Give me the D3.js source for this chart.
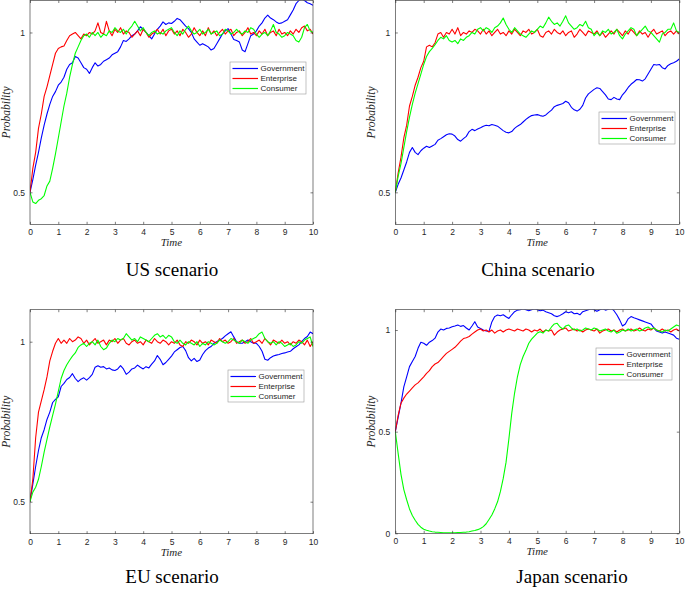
<!DOCTYPE html>
<html>
<head>
<meta charset="utf-8">
<script src="https://cdn.jsdelivr.net/npm/d3@7"></script>
<style>
  body { margin: 0; background: #fff; }
  svg { display: block; }
</style>
</head>
<body>
<svg id="chart" width="685" height="592"></svg>
<script>
// sampling grid of the simulations (t = 0, 0.1, ..., 10)
var time = d3.range(101).map(function (i) { return i / 10; });
var xTicks = [0, 1, 2, 3, 4, 5, 6, 7, 8, 9, 10];
var seriesNames = ["Government", "Enterprise", "Consumer"];

// US scenario
var usGov = [
  0.50,0.54,0.585,0.625,0.67,0.71,0.745,0.775,0.80,0.815,
  0.835,0.845,0.86,0.885,0.90,0.905,0.925,0.92,0.905,0.89,
  0.885,0.872,0.89,0.905,0.895,0.90,0.91,0.915,0.92,0.93,
  0.935,0.94,0.955,0.975,0.972,0.98,0.99,0.995,1.005,1.018,
  1.01,1.0,0.99,0.98,0.995,1.01,1.02,1.033,1.025,1.03,
  1.028,1.035,1.044,1.04,1.03,1.02,1.012,1.0,0.98,0.97,
  0.96,0.965,0.96,0.955,0.945,0.95,0.965,0.98,0.995,1.005,
  1.012,0.995,0.978,0.975,0.97,0.945,0.94,0.965,0.99,0.995,
  1.005,1.02,1.03,1.045,1.054,1.045,1.04,1.033,1.028,1.03,
  1.035,1.04,1.055,1.07,1.09,1.1,1.105,1.1,1.093,1.09,
  1.085];
var usEnt = [
  0.50,0.575,0.625,0.70,0.745,0.80,0.83,0.865,0.90,0.935,
  0.95,0.955,0.958,0.975,0.99,0.995,1.0,0.99,0.98,0.995,
  0.99,1.0,0.995,1.005,1.03,1.0,0.995,1.035,1.005,0.99,
  1.01,1.0,1.015,0.995,1.005,1.0,0.985,0.995,1.005,0.99,
  1.01,1.0,0.985,0.995,1.0,1.01,0.995,1.01,0.99,1.005,
  1.01,0.995,1.005,0.99,1.01,1.0,0.985,0.995,1.015,1.0,
  0.99,1.005,0.99,1.015,0.995,1.005,0.99,1.0,1.01,0.995,
  1.005,1.01,0.99,1.0,1.005,0.99,1.0,1.015,0.995,1.0,
  0.99,1.005,0.995,1.01,0.99,1.0,1.005,0.99,1.01,0.995,
  1.0,0.99,1.005,0.995,1.01,1.0,1.015,1.02,1.005,1.01,
  0.995];
var usCon = [
  0.50,0.47,0.465,0.475,0.48,0.49,0.52,0.535,0.575,0.62,
  0.67,0.72,0.77,0.81,0.86,0.90,0.935,0.955,0.975,0.99,
  0.995,0.985,1.0,0.99,1.0,0.985,0.995,0.99,1.005,1.0,
  1.015,1.005,1.0,1.01,0.995,1.01,1.02,1.035,1.02,1.005,
  1.015,1.0,0.99,1.0,1.005,0.995,1.0,0.995,1.005,1.01,
  1.015,1.0,0.99,1.005,0.995,1.01,1.02,1.005,0.995,1.0,
  1.01,0.995,1.0,1.01,0.995,1.0,1.005,0.99,0.995,1.01,
  1.005,0.995,1.0,1.01,1.0,0.995,1.005,1.0,1.015,1.01,
  0.995,0.985,0.995,1.0,0.99,1.005,1.025,1.0,0.995,0.985,
  0.99,1.0,0.995,0.99,0.975,0.97,0.985,1.015,1.025,1.005,
  1.0];

// China scenario
var chinaGov = [
  0.50,0.525,0.545,0.57,0.595,0.625,0.64,0.625,0.618,0.63,
  0.638,0.644,0.64,0.645,0.65,0.663,0.668,0.674,0.68,0.683,
  0.682,0.676,0.665,0.66,0.668,0.675,0.69,0.697,0.693,0.698,
  0.702,0.707,0.71,0.708,0.712,0.71,0.707,0.70,0.693,0.688,
  0.686,0.69,0.70,0.707,0.712,0.72,0.728,0.735,0.74,0.742,
  0.743,0.74,0.738,0.742,0.75,0.757,0.768,0.772,0.775,0.778,
  0.785,0.78,0.766,0.758,0.754,0.76,0.772,0.795,0.808,0.815,
  0.822,0.827,0.825,0.815,0.805,0.792,0.79,0.797,0.792,0.79,
  0.805,0.815,0.828,0.838,0.845,0.853,0.852,0.848,0.855,0.87,
  0.885,0.9,0.898,0.9,0.89,0.886,0.897,0.902,0.905,0.91,
  0.917];
var chinaEnt = [
  0.50,0.56,0.61,0.67,0.71,0.77,0.80,0.835,0.86,0.89,
  0.91,0.955,0.96,0.955,0.968,0.995,1.0,0.985,1.0,0.995,
  1.01,0.995,1.015,0.99,1.0,0.995,1.005,1.0,1.01,1.005,
  0.995,1.01,0.995,1.005,0.99,1.0,1.01,0.995,1.0,0.99,
  1.005,0.995,1.01,1.0,0.99,1.005,1.0,1.01,0.995,1.0,
  1.01,0.99,0.985,1.0,1.005,0.995,1.01,1.0,0.995,1.005,
  0.99,1.0,1.005,0.985,0.995,1.01,1.0,0.99,1.005,1.0,
  0.995,1.005,0.99,1.0,0.985,0.995,1.005,0.995,1.01,1.0,
  0.99,1.005,0.995,1.01,1.0,0.99,1.005,0.995,1.0,0.985,
  1.0,1.01,0.995,1.0,1.005,0.99,1.0,1.005,0.995,1.005,
  0.995];
var chinaCon = [
  0.50,0.55,0.59,0.64,0.69,0.735,0.775,0.81,0.84,0.87,
  0.90,0.925,0.94,0.95,0.962,0.975,0.985,0.98,0.99,0.975,
  0.97,0.975,0.965,0.98,0.975,0.985,0.99,1.0,0.995,1.01,
  1.015,1.005,1.015,1.01,1.0,1.015,1.02,1.03,1.045,1.025,
  1.01,1.0,1.015,1.005,0.995,0.99,0.985,0.995,1.005,1.0,
  1.01,1.02,1.015,1.03,1.048,1.035,1.025,1.03,1.02,1.035,
  1.052,1.03,1.02,1.01,1.015,1.025,1.02,1.035,1.015,1.01,
  0.99,1.0,0.99,1.005,1.0,1.01,0.995,1.0,1.01,0.99,
  0.98,0.995,1.005,1.015,1.01,0.99,1.0,1.01,1.02,1.005,
  1.0,0.99,0.98,0.97,0.995,1.0,1.01,1.01,1.03,1.005,
  1.0];

// EU scenario
var euGov = [
  0.50,0.555,0.61,0.66,0.70,0.725,0.757,0.78,0.81,0.82,
  0.828,0.86,0.87,0.882,0.888,0.90,0.885,0.875,0.883,0.887,
  0.88,0.888,0.898,0.92,0.925,0.92,0.922,0.915,0.918,0.912,
  0.91,0.915,0.925,0.915,0.898,0.905,0.915,0.918,0.927,0.92,
  0.915,0.922,0.918,0.93,0.94,0.957,0.945,0.928,0.935,0.945,
  0.955,0.968,0.975,0.982,0.985,0.972,0.95,0.94,0.948,0.938,
  0.943,0.96,0.972,0.98,0.985,0.995,1.0,1.005,1.01,1.018,
  1.025,1.031,1.015,1.0,0.995,0.995,1.0,1.005,1.0,0.995,
  0.995,0.985,0.97,0.945,0.942,0.95,0.955,0.958,0.96,0.963,
  0.965,0.968,0.97,0.978,0.984,0.99,1.0,1.01,1.016,1.03,
  1.025];
var euEnt = [
  0.50,0.57,0.70,0.78,0.815,0.85,0.89,0.94,0.97,0.995,
  1.01,0.995,1.005,0.995,1.01,1.0,1.005,1.015,1.01,0.995,
  1.005,0.99,1.0,1.01,0.995,1.0,1.005,0.99,1.005,1.0,
  1.01,0.995,1.005,1.01,0.995,0.99,1.0,1.005,0.995,1.0,
  0.99,1.005,1.0,0.995,1.01,1.0,0.995,1.005,1.0,0.99,
  1.0,0.995,1.005,0.99,0.985,1.0,0.995,1.005,1.0,0.99,
  1.005,0.995,1.0,0.99,1.005,1.0,0.995,1.01,1.0,1.005,
  0.995,1.0,1.01,0.995,1.0,1.005,0.995,1.0,1.01,0.995,
  1.0,1.005,0.995,1.01,1.0,0.99,1.005,1.0,0.995,1.005,
  0.995,1.0,0.99,1.0,0.995,1.005,1.0,0.99,1.005,0.985,
  1.0];
var euCon = [
  0.50,0.53,0.545,0.57,0.61,0.655,0.695,0.734,0.77,0.805,
  0.845,0.885,0.91,0.928,0.942,0.955,0.965,0.982,0.99,0.995,
  0.985,0.995,1.0,0.99,1.005,0.985,0.975,0.98,0.995,1.005,
  1.0,1.01,1.005,1.01,1.025,1.015,1.005,1.01,1.0,1.015,
  1.01,1.005,1.0,1.01,1.02,1.025,1.015,1.02,1.01,1.02,
  1.015,1.0,0.995,1.005,0.995,0.99,1.0,0.995,0.99,1.0,
  0.985,0.995,0.99,1.0,0.995,0.99,0.995,1.005,1.0,0.995,
  1.0,1.01,1.005,1.0,0.995,1.005,1.0,0.995,1.005,1.01,
  1.015,1.025,1.03,1.01,1.0,0.995,1.0,0.99,1.0,0.995,
  0.985,0.99,0.995,0.985,0.99,1.0,0.995,1.005,1.01,1.015,
  0.985];

// Japan scenario
var japanGov = [
  0.50,0.57,0.64,0.72,0.77,0.82,0.845,0.87,0.91,0.94,
  0.935,0.925,0.94,0.948,0.96,0.99,1.005,1.0,1.008,1.01,
  1.016,1.02,1.025,1.018,1.022,1.01,1.0,1.02,1.041,1.015,
  1.008,1.0,0.995,0.993,1.04,1.066,1.074,1.07,1.075,1.065,
  1.057,1.075,1.09,1.098,1.1,1.105,1.1,1.095,1.1,1.105,
  1.1,1.095,1.098,1.09,1.085,1.08,1.07,1.066,1.072,1.08,
  1.09,1.085,1.09,1.08,1.082,1.075,1.09,1.095,1.1,1.105,
  1.1,1.092,1.1,1.105,1.098,1.102,1.108,1.095,1.075,1.05,
  1.02,1.03,1.055,1.066,1.06,1.055,1.05,1.045,1.04,1.035,
  1.03,1.012,0.995,0.99,0.985,0.99,0.985,0.98,0.975,0.96,
  0.955];
var japanEnt = [
  0.50,0.58,0.64,0.665,0.685,0.70,0.715,0.73,0.74,0.755,
  0.77,0.787,0.80,0.82,0.833,0.84,0.855,0.87,0.885,0.895,
  0.905,0.915,0.93,0.945,0.958,0.962,0.968,0.98,0.99,1.0,
  1.005,0.995,1.0,0.99,1.0,0.985,0.995,1.0,0.99,1.0,
  1.005,1.0,0.995,1.005,1.0,0.995,1.005,1.0,0.99,1.0,
  0.995,1.005,0.99,1.0,0.995,1.0,0.975,0.99,1.0,1.005,
  1.01,0.995,1.0,1.005,0.995,1.0,0.99,1.0,1.005,1.0,
  0.995,1.005,0.985,0.995,1.0,1.005,0.995,1.0,0.99,1.0,
  1.005,0.995,1.0,1.005,0.995,1.0,1.01,1.0,0.995,1.005,
  1.0,1.01,1.0,0.995,1.005,0.995,1.0,0.99,1.0,1.005,
  0.995];
var japanCon = [
  0.50,0.393,0.29,0.215,0.165,0.12,0.088,0.064,0.044,0.03,
  0.02,0.015,0.011,0.008,0.006,0.005,0.004,0.003,0.003,0.003,
  0.003,0.003,0.004,0.004,0.005,0.006,0.008,0.011,0.014,0.018,
  0.024,0.033,0.047,0.068,0.09,0.12,0.155,0.205,0.27,0.35,
  0.465,0.59,0.69,0.77,0.83,0.87,0.90,0.935,0.955,0.97,
  0.985,0.992,0.985,1.0,0.995,1.015,1.03,1.033,1.015,1.005,
  1.02,1.025,1.01,1.0,1.005,0.995,1.0,1.01,1.005,1.0,
  1.01,1.005,0.995,1.0,1.005,0.995,0.99,1.0,0.984,0.99,
  1.0,0.995,1.005,0.995,1.0,1.005,0.995,1.0,1.01,1.015,
  1.005,1.01,1.0,0.995,0.99,1.0,0.995,1.005,1.015,1.025,
  1.02];

var panels = [
  { title: "US scenario",    series: [usGov, usEnt, usCon],          yDomain: [0.4, 1.1], yTicks: [0.5, 1] },
  { title: "China scenario", series: [chinaGov, chinaEnt, chinaCon], yDomain: [0.4, 1.1], yTicks: [0.5, 1] },
  { title: "EU scenario",    series: [euGov, euEnt, euCon],          yDomain: [0.4, 1.1], yTicks: [0.5, 1] },
  { title: "Japan scenario", series: [japanGov, japanEnt, japanCon], yDomain: [0, 1.1],   yTicks: [0, 0.5, 1] }
];

// where each panel sits on the page
var layout = [
  { left: 30,    right: 313,   top: 0.5,   bottom: 224.3, lx: 230, ly: 62,  tx: 172, ty: 276 },
  { left: 395.3, right: 679.3, top: 0.5,   bottom: 224.3, lx: 599, ly: 112, tx: 538, ty: 276 },
  { left: 30,    right: 313,   top: 309.7, bottom: 533.7, lx: 228, ly: 370, tx: 172, ty: 583 },
  { left: 395.3, right: 679.3, top: 309.7, bottom: 533.3, lx: 596, ly: 348, tx: 572, ty: 583 }
];

var colors = ["#0000ff", "#ff0000", "#00ff00"];
var axisColor = "#262626";
var svg = d3.select("#chart");

panels.forEach(function (p, k) {
  var L = layout[k];
  var w = L.right - L.left, h = L.bottom - L.top;

  var x = d3.scaleLinear().domain([0, 10]).range([L.left, L.right]);
  var y = d3.scaleLinear().domain(p.yDomain).range([L.bottom, L.top]);

  // clip so the lines stay inside the box like matlab does
  svg.append("clipPath").attr("id", "clip" + k)
    .append("rect").attr("x", L.left).attr("y", L.top).attr("width", w).attr("height", h);

  var line = d3.line()
    .x(function (d, i) { return x(time[i]); })
    .y(function (d) { return y(d); });

  var g = svg.append("g");

  g.append("g").attr("clip-path", "url(#clip" + k + ")")
    .selectAll("path").data(p.series).enter().append("path")
    .attr("d", line)
    .attr("fill", "none")
    .attr("stroke", function (d, i) { return colors[i]; })
    .attr("stroke-width", 1.1)
    .attr("stroke-linejoin", "round");

  // bottom axis with inward ticks, top axis mirrored
  var xb = g.append("g").attr("transform", "translate(0," + L.bottom + ")")
    .call(d3.axisBottom(x).tickValues(xTicks).tickSizeInner(-2.5).tickSizeOuter(0).tickPadding(5));
  var xt = g.append("g").attr("transform", "translate(0," + L.top + ")")
    .call(d3.axisTop(x).tickValues(xTicks).tickSizeInner(-2.5).tickSizeOuter(0).tickFormat(""));
  var yl = g.append("g").attr("transform", "translate(" + L.left + ",0)")
    .call(d3.axisLeft(y).tickValues(p.yTicks).tickSizeInner(-2.5).tickSizeOuter(0).tickPadding(5)
      .tickFormat(function (d) { return d === 0.5 ? "0.5" : d3.format("d")(d); }));
  var yr = g.append("g").attr("transform", "translate(" + L.right + ",0)")
    .call(d3.axisRight(y).tickValues(p.yTicks).tickSizeInner(-2.5).tickSizeOuter(0).tickFormat(""));

  [xb, xt, yl, yr].forEach(function (a) {
    a.select(".domain").remove();
    a.selectAll(".tick line").attr("stroke", axisColor).attr("stroke-width", 0.6);
    a.selectAll(".tick text").attr("fill", axisColor)
      .style("font-family", "'Liberation Sans', Arial, sans-serif").style("font-size", "8.5px");
  });

  // box
  g.append("rect")
    .attr("x", L.left).attr("y", L.top).attr("width", w).attr("height", h)
    .attr("fill", "none").attr("stroke", axisColor).attr("stroke-width", 0.6);

  // axis labels
  g.append("text")
    .attr("x", (L.left + L.right) / 2).attr("y", L.bottom + 22)
    .attr("text-anchor", "middle")
    .style("font-family", "'Liberation Serif', 'Times New Roman', serif")
    .style("font-style", "italic").style("font-size", "11px").attr("fill", axisColor)
    .text("Time");
  g.append("text")
    .attr("transform", "translate(" + (L.left - 20) + "," + ((L.top + L.bottom) / 2) + ") rotate(-90)")
    .attr("text-anchor", "middle")
    .style("font-family", "'Liberation Serif', 'Times New Roman', serif")
    .style("font-style", "italic").style("font-size", "11.5px").attr("fill", axisColor)
    .text("Probability");

  // legend
  var items = seriesNames.map(function (n, i) { return { name: n, color: colors[i], row: i }; });
  var lg = svg.append("g").attr("transform", "translate(" + L.lx + "," + L.ly + ")");
  lg.append("rect").attr("width", 76).attr("height", 32)
    .attr("fill", "#fff").attr("stroke", "#9a9a9a").attr("stroke-width", 0.6);
  lg.selectAll("path.key").data(items).enter().append("path")
    .attr("class", "key")
    .attr("d", function (d) { return "M2.5," + (6.5 + d.row * 10) + "H28"; })
    .style("stroke", function (d) { return d.color; })
    .style("stroke-width", "1.2px")
    .style("fill", "none");
  lg.selectAll("text.key").data(items).enter().append("text")
    .attr("class", "key")
    .attr("x", 30.5).attr("y", function (d) { return 6.5 + d.row * 10; })
    .attr("dy", "0.35em")
    .style("font-family", "'Liberation Sans', Arial, sans-serif").style("font-size", "8px")
    .attr("fill", axisColor)
    .text(function (d) { return d.name; });

  // scenario caption
  svg.append("text")
    .attr("x", L.tx).attr("y", L.ty)
    .attr("text-anchor", "middle")
    .style("font-family", "'Liberation Serif', 'Times New Roman', serif")
    .style("font-size", "19px").attr("fill", "#000")
    .text(p.title);
});
</script>
</body>
</html>
